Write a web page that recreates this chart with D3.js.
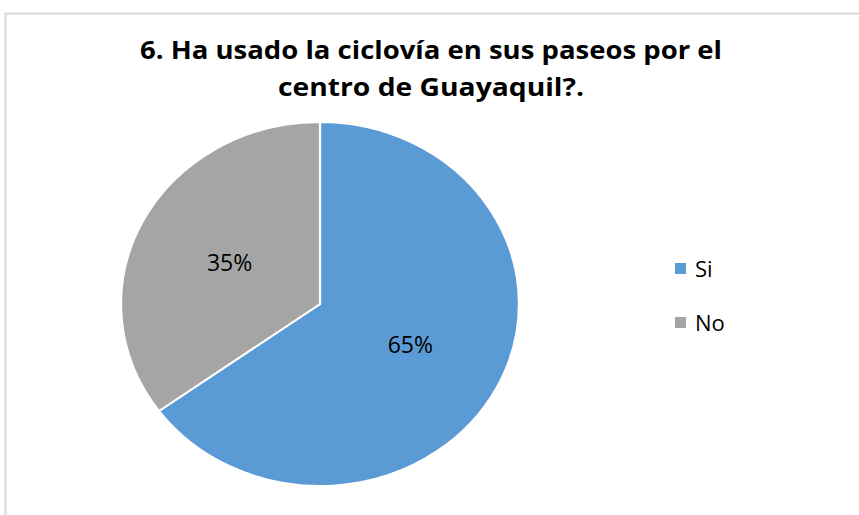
<!DOCTYPE html>
<html>
<head>
<meta charset="utf-8">
<script src="https://cdn.jsdelivr.net/npm/d3@7"></script>
<style>
  body { margin: 0; background: #fff; }
  text { font-family: "Open Sans", "Liberation Sans", sans-serif; }
</style>
</head>
<body>
<div id="chart"></div>
<script>
const categories = ["Si", "No"];
const values = [65, 35];
const colors = ["#5B9BD5", "#A5A5A5"];
const titleLines = ["6. Ha usado la ciclovía en sus paseos por el", "centro de Guayaquil?."];

const svgWidth = 859;
const svgHeight = 515;

const svg = d3
  .select("#chart")
  .append("svg")
  .attr("width", svgWidth)
  .attr("height", svgHeight);

// chart area border (right/bottom edges fall outside the picture)
svg
  .append("rect")
  .attr("x", 5.5)
  .attr("y", 13.5)
  .attr("width", 900)
  .attr("height", 560)
  .attr("fill", "#fff")
  .attr("stroke", "#d9d9d9")
  .attr("stroke-width", 2);

// title
const titleWidths = [582, 306];
svg
  .selectAll(".title")
  .data(titleLines)
  .enter()
  .append("text")
  .attr("class", "title")
  .attr("x", 431)
  .attr("y", (d, i) => 59 + i * 37)
  .attr("text-anchor", "middle")
  .attr("font-size", 25)
  .attr("font-weight", "bold")
  .attr("fill", "#000")
  .attr("textLength", (d, i) => titleWidths[i])
  .attr("lengthAdjust", "spacingAndGlyphs")
  .text((d) => d);

// pie (slightly stretched horizontally like the original)
const radius = 182;
const cx = 320;
const cy = 304;
const stretch = 1.093;

const pie = d3.pie().sort(null).value((d) => d);
const arc = d3.arc().innerRadius(0).outerRadius(radius);
const arcs = pie(values);

const g = svg
  .append("g")
  .attr("transform", `translate(${cx},${cy}) scale(${stretch},1)`);

g.selectAll(".slice")
  .data(arcs)
  .enter()
  .append("path")
  .attr("class", "slice")
  .attr("d", arc)
  .attr("fill", (d, i) => colors[i])
  .attr("stroke", "#fff")
  .attr("stroke-width", 2);

const labelArc = d3.arc().innerRadius(radius * 0.5).outerRadius(radius * 0.5);
const total = d3.sum(values);
svg
  .selectAll(".pct")
  .data(arcs)
  .enter()
  .append("text")
  .attr("class", "pct")
  .attr("x", (d) => cx + labelArc.centroid(d)[0] * stretch * 1.02)
  .attr("y", (d) => cy + labelArc.centroid(d)[1] + 8)
  .attr("text-anchor", "middle")
  .attr("font-size", 23)
  .attr("fill", "#000")
  .text((d) => Math.round((d.value / total) * 100) + "%");

// legend
const legend = svg
  .selectAll(".legend")
  .data(categories)
  .enter()
  .append("g")
  .attr("class", "legend")
  .attr("transform", (d, i) => `translate(675,${263 + i * 54})`);

legend
  .append("rect")
  .attr("width", 11)
  .attr("height", 11)
  .attr("fill", (d, i) => colors[i]);

legend
  .append("text")
  .attr("x", 20)
  .attr("y", 14)
  .attr("font-size", 22)
  .attr("fill", "#000")
  .text((d) => d);
</script>
</body>
</html>
